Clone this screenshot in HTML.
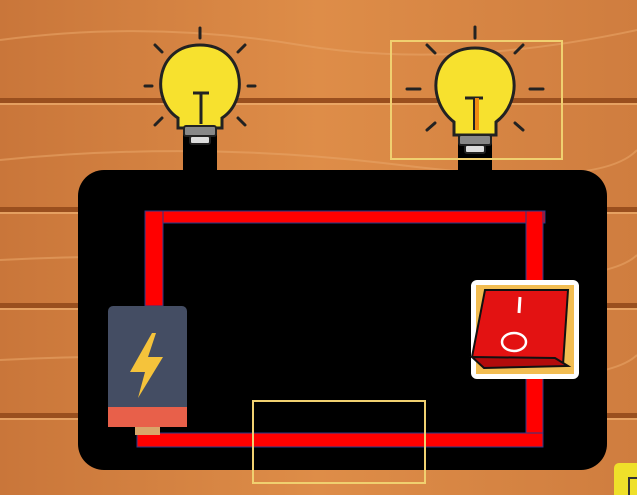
<!DOCTYPE html>
<html><head><meta charset="utf-8"><style>html,body{margin:0;padding:0;width:637px;height:495px;overflow:hidden;background:#d78640}</style></head>
<body>
<svg width="637" height="495" viewBox="0 0 637 495" xmlns="http://www.w3.org/2000/svg">
<defs>
<linearGradient id="wood" x1="0" y1="0" x2="1" y2="0"><stop offset="0" stop-color="#c9763a"/><stop offset="0.5" stop-color="#de8d48"/><stop offset="1" stop-color="#cf7d3f"/></linearGradient>
</defs>
<rect width="637" height="495" fill="url(#wood)"/>
<g stroke="#e8a466" stroke-width="2" fill="none" opacity="0.6">
<path d="M0 40 Q150 20 300 45 T637 30"/><path d="M0 160 Q200 140 400 165 T637 150"/><path d="M0 260 Q200 250 400 270 T637 255"/><path d="M0 360 Q200 350 400 370 T637 355"/>
</g>
<g fill="#9a4f1e">
<rect x="0" y="98" width="637" height="5"/><rect x="0" y="207" width="637" height="5"/><rect x="0" y="303" width="637" height="5"/><rect x="0" y="413" width="637" height="5"/>
</g>
<g fill="#f0b070" opacity="0.7"><rect x="0" y="103" width="637" height="2"/><rect x="0" y="212" width="637" height="2"/><rect x="0" y="308" width="637" height="2"/><rect x="0" y="418" width="637" height="2"/></g>

<rect x="78" y="170" width="529" height="300" rx="26" fill="#000"/>

<g fill="#ff0000" stroke="#2a3a8a" stroke-width="1">
<rect x="145" y="211" width="400" height="12"/>
<rect x="145" y="211" width="18" height="95"/>
<rect x="526" y="211" width="17" height="234"/>
<rect x="137" y="433" width="406" height="14"/>
</g>

<g>
<rect x="135" y="420" width="25" height="15" fill="#d9a56a"/>
<rect x="108" y="306" width="79" height="121" rx="5" fill="#444d63"/>
<rect x="108" y="407" width="79" height="20" fill="#e8604a"/>
<polygon points="152,333 130,372 145,372 138,398 163,357 148,357 156,333" fill="#f5c33b"/>
</g>

<g>
<rect x="183" y="130" width="34" height="42" fill="#000"/>
<g stroke="#222" stroke-width="3" stroke-linecap="round"><line x1="200" y1="28" x2="200" y2="38"/><line x1="155" y1="45" x2="162" y2="52"/><line x1="245" y1="45" x2="238" y2="52"/><line x1="145" y1="86" x2="152" y2="86"/><line x1="248" y1="86" x2="255" y2="86"/><line x1="155" y1="125" x2="162" y2="118"/><line x1="245" y1="125" x2="238" y2="118"/></g>
<path d="M178 118 C150 100 155 45 200 45 C245 45 250 100 222 118 L222 128 L178 128 Z" fill="#f7e12e" stroke="#222" stroke-width="3"/>
<rect x="184" y="126" width="32" height="10" rx="2" fill="#888" stroke="#222" stroke-width="2"/>
<rect x="190" y="136" width="20" height="8" rx="2" fill="#ddd" stroke="#222" stroke-width="2"/>
<line x1="193" y1="93" x2="209" y2="93" stroke="#222" stroke-width="3"/><line x1="201" y1="93" x2="201" y2="124" stroke="#222" stroke-width="3"/>
</g>

<g>
<rect x="458" y="133" width="34" height="39" fill="#000"/>
<g stroke="#222" stroke-width="3" stroke-linecap="round"><line x1="475" y1="27" x2="475" y2="38"/><line x1="427" y1="45" x2="435" y2="53"/><line x1="523" y1="45" x2="515" y2="53"/><line x1="407" y1="89" x2="420" y2="89"/><line x1="530" y1="89" x2="543" y2="89"/><line x1="427" y1="130" x2="435" y2="123"/><line x1="523" y1="130" x2="515" y2="123"/></g>
<path d="M454 122 C425 100 430 48 475 48 C520 48 525 100 496 122 L496 135 L454 135 Z" fill="#f7e12e" stroke="#222" stroke-width="3"/>
<rect x="459" y="135" width="32" height="10" rx="2" fill="#888" stroke="#222" stroke-width="2"/>
<rect x="465" y="145" width="20" height="8" rx="2" fill="#ddd" stroke="#222" stroke-width="2"/>
<line x1="465" y1="98" x2="483" y2="98" stroke="#222" stroke-width="3"/><line x1="477" y1="98" x2="477" y2="130" stroke="#f08a10" stroke-width="4"/><line x1="474" y1="98" x2="474" y2="130" stroke="#222" stroke-width="2"/>
</g>

<rect x="391" y="41" width="171" height="118" fill="none" stroke="#f0d070" stroke-width="2"/>
<rect x="253" y="401" width="172" height="82" fill="none" stroke="#f0d070" stroke-width="2"/>

<g>
<rect x="471" y="280" width="108" height="99" rx="6" fill="#fff"/>
<rect x="476" y="285" width="98" height="89" fill="#f2bd52"/>
<path d="M485 290 L568 290 L563 365 L478 360 L472 357 Z" fill="#e31212" stroke="#111" stroke-width="2"/>
<path d="M472 357 L555 358 L568 366 L484 368 Z" fill="#b20c0c" stroke="#111" stroke-width="2"/>
<line x1="520" y1="297" x2="519" y2="313" stroke="#fff" stroke-width="3"/>
<ellipse cx="514" cy="342" rx="12" ry="9" fill="none" stroke="#fff" stroke-width="2.5"/>
</g>

<rect x="614" y="463" width="30" height="40" rx="5" fill="#efe02a"/>
<rect x="629" y="478" width="10" height="20" fill="none" stroke="#333" stroke-width="2"/>
</svg>
</body></html>
